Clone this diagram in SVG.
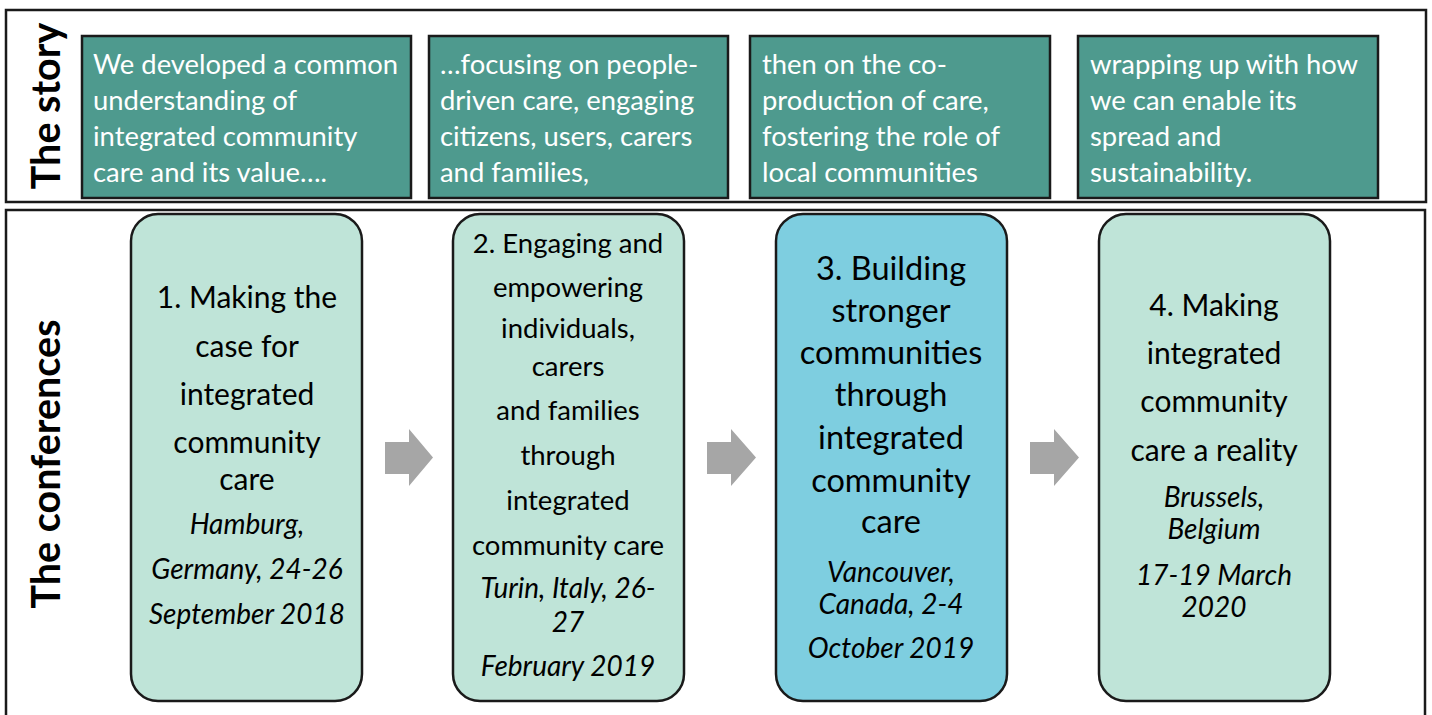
<svg xmlns="http://www.w3.org/2000/svg" width="1432" height="715" viewBox="0 0 1432 715">
<style>
.frame{fill:#fff;stroke:#1a1a1a;stroke-width:2.5}
.story{fill:#4E9A8E;stroke:#1a1a1a;stroke-width:2.5}
.conf{fill:#BFE4D8;stroke:#1a1a1a;stroke-width:2.5}
.conf3{fill:#7ECEE0;stroke:#1a1a1a;stroke-width:2.5}
.arrow{fill:#A6A6A6}
text{font-family:Lato,"Liberation Sans",sans-serif}
.st{fill:#fff;font-size:27.4px}
.title{font-weight:bold;font-size:39.5px;fill:#000}
.nt{font-size:30px;fill:#000;text-anchor:middle}
.nt2{font-size:27.5px;fill:#000;text-anchor:middle}
.nt3{font-size:32.5px;fill:#000;text-anchor:middle}
.it{font-size:28px;font-style:italic;fill:#000;text-anchor:middle}
</style>
<rect x="0" y="0" width="1432" height="715" fill="#fff"/>
<g id="story-frame">
<rect class="frame" x="6" y="10" width="1420" height="192"/>
<text class="title" transform="translate(60,106) rotate(-90)" text-anchor="middle">The story</text>
</g>
<g id="conf-frame">
<rect class="frame" x="6" y="210" width="1419" height="515"/>
<text class="title" transform="translate(60,464) rotate(-90)" text-anchor="middle">The conferences</text>
</g>
<g id="story1">
<rect class="story" x="82" y="36" width="329" height="162"/>
<text class="st" x="93" y="74">We developed a common</text>
<text class="st" x="93" y="110">understanding of</text>
<text class="st" x="93" y="146">integrated community</text>
<text class="st" x="93" y="182">care and its value….</text>
</g>
<g id="story2">
<rect class="story" x="429" y="36" width="299" height="162"/>
<text class="st" x="440" y="74">…focusing on people-</text>
<text class="st" x="440" y="110">driven care, engaging</text>
<text class="st" x="440" y="146">citizens, users, carers</text>
<text class="st" x="440" y="182">and families,</text>
</g>
<g id="story3">
<rect class="story" x="750" y="36" width="300" height="162"/>
<text class="st" x="762" y="74">then on the co-</text>
<text class="st" x="762" y="110">production of care,</text>
<text class="st" x="762" y="146">fostering the role of</text>
<text class="st" x="762" y="182">local communities</text>
</g>
<g id="story4">
<rect class="story" x="1078" y="36" width="300" height="162"/>
<text class="st" x="1090" y="74">wrapping up with how</text>
<text class="st" x="1090" y="110">we can enable its</text>
<text class="st" x="1090" y="146">spread and</text>
<text class="st" x="1090" y="182">sustainability.</text>
</g>
<g id="conf1">
<rect class="conf" x="131" y="214" width="231" height="487" rx="27"/>
<text class="nt" x="247" y="308">1. Making the</text>
<text class="nt" x="247" y="357">case for</text>
<text class="nt" x="247" y="405">integrated</text>
<text class="nt" x="247" y="453">community</text>
<text class="nt" x="247" y="490">care</text>
<text class="it" x="247" y="534">Hamburg,</text>
<text class="it" x="247" y="579">Germany, 24-26</text>
<text class="it" x="247" y="624">September 2018</text>
</g>
<g id="conf2">
<rect class="conf" x="453" y="214" width="231" height="487" rx="27"/>
<text class="nt2" x="568" y="253">2. Engaging and</text>
<text class="nt2" x="568" y="297">empowering</text>
<text class="nt2" x="568" y="338">individuals,</text>
<text class="nt2" x="568" y="376">carers</text>
<text class="nt2" x="568" y="420">and families</text>
<text class="nt2" x="568" y="465">through</text>
<text class="nt2" x="568" y="510">integrated</text>
<text class="nt2" x="568" y="555">community care</text>
<text class="it" x="568" y="598">Turin, Italy, 26-</text>
<text class="it" x="568" y="632">27</text>
<text class="it" x="568" y="676">February 2019</text>
</g>
<g id="conf3">
<rect class="conf3" x="776" y="214" width="231" height="487" rx="27"/>
<text class="nt3" x="891" y="280">3. Building</text>
<text class="nt3" x="891" y="322">stronger</text>
<text class="nt3" x="891" y="364">communities</text>
<text class="nt3" x="891" y="406">through</text>
<text class="nt3" x="891" y="449">integrated</text>
<text class="nt3" x="891" y="492">community</text>
<text class="nt3" x="891" y="533">care</text>
<text class="it" x="891" y="582">Vancouver,</text>
<text class="it" x="891" y="614">Canada, 2-4</text>
<text class="it" x="891" y="658">October 2019</text>
</g>
<g id="conf4">
<rect class="conf" x="1099" y="214" width="231" height="487" rx="27"/>
<text class="nt" x="1214" y="316">4. Making</text>
<text class="nt" x="1214" y="364">integrated</text>
<text class="nt" x="1214" y="412">community</text>
<text class="nt" x="1214" y="461">care a reality</text>
<text class="it" x="1214" y="507">Brussels,</text>
<text class="it" x="1214" y="539">Belgium</text>
<text class="it" x="1214" y="585">17-19 March</text>
<text class="it" x="1214" y="617">2020</text>
</g>
<g id="connectors">
<polygon class="arrow" points="385,442 409,442 409,429 433,457.5 409,486 409,474 385,474"/>
<polygon class="arrow" points="707,442 731,442 731,429 756,457.5 731,486 731,474 707,474"/>
<polygon class="arrow" points="1030,442 1054,442 1054,429 1079,457.5 1054,486 1054,474 1030,474"/>
</g>
</svg>
